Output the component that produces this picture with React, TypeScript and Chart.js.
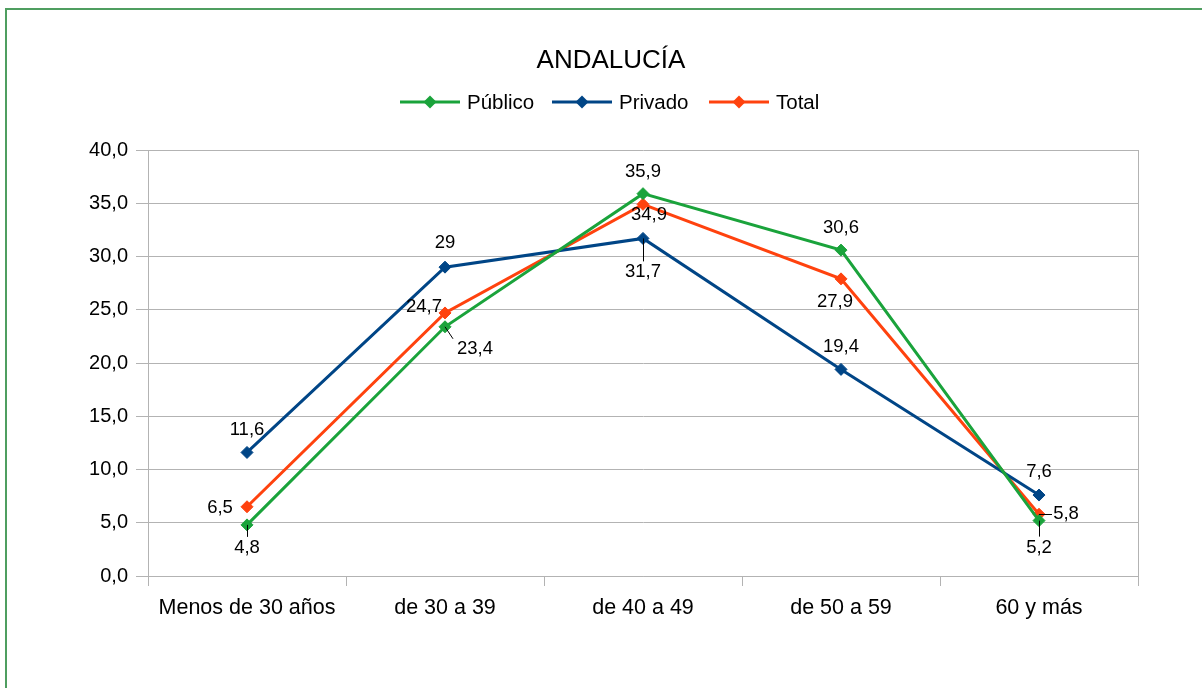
import React, { useEffect, useRef } from "react";
import { Chart, registerables } from "chart.js";

Chart.register(...registerables);

const categories = ["Menos de 30 años", "de 30 a 39", "de 40 a 49", "de 50 a 59", "60 y más"];
const publico = [4.8, 23.4, 35.9, 30.6, 5.2];
const privado = [11.6, 29, 31.7, 19.4, 7.6];
const total = [6.5, 24.7, 34.9, 27.9, 5.8];
const seriesNames = ["Público", "Privado", "Total"];
const seriesColors = ["#1aa33b", "#004586", "#ff420e"];
const titleText = "ANDALUCÍA";

// label placement (px offsets from the point) and leader-line flags
const labelOffsets = [
  [[0, 22, 1], [30, 21, 1], [0, -23, 0], [0, -23, 0], [0, 26, 1]],
  [[0, -24, 0], [0, -25, 0], [0, 33, 1], [0, -23, 0], [0, -24, 0]],
  [[-27, 0, 0], [-21, -7, 0], [6, 10, 0], [-6, 22, 0], [27, -1, 1]],
];

const FONT = "'Liberation Sans', Arial, sans-serif";
const fmt = (v: number) => String(v).replace(".", ",");

const decorPlugin = {
  id: "decor",
  beforeDraw(chart: any) {
    const ctx = chart.ctx;
    ctx.save();
    ctx.strokeStyle = "#4f9e60";
    ctx.lineWidth = 2;
    ctx.beginPath();
    ctx.moveTo(6, 700);
    ctx.lineTo(6, 9);
    ctx.lineTo(1210, 9);
    ctx.stroke();
    ctx.restore();
  },
  afterDraw(chart: any) {
    const ctx = chart.ctx;
    const area = chart.chartArea;
    ctx.save();
    // right plot border
    ctx.strokeStyle = "#b3b3b3";
    ctx.lineWidth = 1;
    ctx.beginPath();
    ctx.moveTo(Math.round(area.right) + 0.5, area.top);
    ctx.lineTo(Math.round(area.right) + 0.5, area.bottom);
    ctx.stroke();

    // title
    ctx.fillStyle = "#000";
    ctx.font = `26px ${FONT}`;
    ctx.textAlign = "center";
    ctx.textBaseline = "middle";
    ctx.fillText(titleText, 611, 61);

    // legend
    ctx.font = `20.5px ${FONT}`;
    ctx.textAlign = "left";
    const legendX = [400, 552, 709];
    seriesNames.forEach((name, i) => {
      const x = legendX[i];
      const y = 102;
      ctx.strokeStyle = seriesColors[i];
      ctx.lineWidth = 3;
      ctx.beginPath();
      ctx.moveTo(x, y);
      ctx.lineTo(x + 60, y);
      ctx.stroke();
      ctx.fillStyle = seriesColors[i];
      ctx.beginPath();
      ctx.moveTo(x + 30, y - 6.5);
      ctx.lineTo(x + 36.5, y);
      ctx.lineTo(x + 30, y + 6.5);
      ctx.lineTo(x + 23.5, y);
      ctx.closePath();
      ctx.fill();
      ctx.fillStyle = "#000";
      ctx.fillText(name, x + 67, y + 1);
    });

    // data labels
    ctx.font = `18.5px ${FONT}`;
    ctx.textAlign = "center";
    ctx.textBaseline = "middle";
    chart.data.datasets.forEach((ds: any, di: number) => {
      const meta = chart.getDatasetMeta(di);
      meta.data.forEach((pt: any, i: number) => {
        const [dx, dy, leader] = labelOffsets[di][i];
        const lx = pt.x + dx;
        const ly = pt.y + dy;
        if (leader) {
          ctx.strokeStyle = "#000";
          ctx.lineWidth = 1;
          ctx.beginPath();
          if (dx === 0) {
            ctx.moveTo(Math.round(pt.x) + 0.5, pt.y);
            ctx.lineTo(Math.round(pt.x) + 0.5, ly - 10);
          } else if (Math.abs(dy) < 3) {
            ctx.moveTo(pt.x, Math.round(pt.y) + 0.5);
            ctx.lineTo(lx - 14, Math.round(pt.y) + 0.5);
          } else {
            ctx.moveTo(pt.x, pt.y);
            ctx.lineTo(lx - 22, ly - 9);
          }
          ctx.stroke();
        }
        ctx.fillStyle = "#000";
        ctx.fillText(fmt(ds.data[i]), lx, ly + 1);
      });
    });
    ctx.restore();
  },
};

export default function App() {
  const ref = useRef<HTMLCanvasElement>(null);
  useEffect(() => {
    if (!ref.current) return;
    const mk = (label: string, data: number[], color: string) => ({
      label,
      data,
      borderColor: color,
      backgroundColor: color,
      borderWidth: 3,
      pointStyle: "rectRot",
      pointRadius: 6,
      pointBorderWidth: 1,
      pointBackgroundColor: color,
      pointBorderColor: color,
      tension: 0,
    });
    const chart = new Chart(ref.current, {
      type: "line",
      data: {
        labels: categories,
        datasets: [
          mk(seriesNames[0], publico, seriesColors[0]),
          mk(seriesNames[1], privado, seriesColors[1]),
          mk(seriesNames[2], total, seriesColors[2]),
        ],
      },
      options: {
        responsive: false,
        animation: false,
        devicePixelRatio: 1,
        layout: { padding: { top: 150, right: 64, bottom: 52, left: 0 } },
        plugins: {
          legend: { display: false },
          title: { display: false },
          tooltip: { enabled: false },
        },
        scales: {
          x: {
            offset: true,
            grid: {
              offset: true,
              drawOnChartArea: false,
              color: "#b3b3b3",
              tickLength: 10,
            },
            border: { color: "#b3b3b3" },
            ticks: {
              color: "#000",
              font: { family: FONT, size: 21.5 },
              padding: 9,
              maxRotation: 0,
            },
            afterFit: (s: any) => {
              s.height = 60;
            },
          },
          y: {
            min: 0,
            max: 40,
            grid: { color: "#b3b3b3", tickLength: 12 },
            border: { color: "#b3b3b3" },
            ticks: {
              stepSize: 5,
              color: "#000",
              font: { family: FONT, size: 20 },
              padding: 8,
              callback: (v: any) => Number(v).toFixed(1).replace(".", ","),
            },
            afterFit: (s: any) => {
              s.width = 148;
            },
          },
        },
      },
      plugins: [decorPlugin],
    });
    return () => chart.destroy();
  }, []);
  return (
    <div style={{ position: "absolute", left: 0, top: 0, width: 1202, height: 688, background: "#fff" }}>
      <canvas ref={ref} width={1202} height={688} style={{ display: "block" }} />
    </div>
  );
}
